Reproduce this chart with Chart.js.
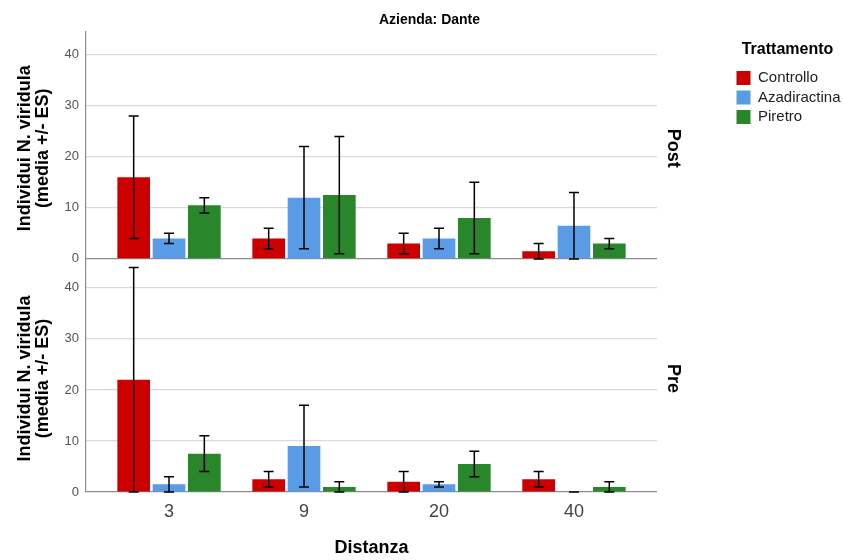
<!DOCTYPE html>
<html>
<head>
<meta charset="utf-8">
<title>Azienda: Dante</title>
<script src="https://cdn.jsdelivr.net/npm/chart.js@4.4.1/dist/chart.umd.min.js"></script>
<style>
  html, body { margin: 0; padding: 0; background: #fff; }
  #chart { display: block; }
</style>
</head>
<body>
<canvas id="chart" width="843" height="560"></canvas>
<script>
"use strict";

// distanze (asse x)
const categories = ['3', '9', '20', '40'];
const treatments = ['Controllo', 'Azadiractina', 'Piretro'];

// Post: medie ed errori standard
const postControllo = [16, 4, 3, 1.5];
const postControlloES = [12, 2, 2, 1.5];
const postAzadiractina = [4, 12, 4, 6.5];
const postAzadiractinaES = [1, 10, 2, 6.5];
const postPiretro = [10.5, 12.5, 8, 3];
const postPiretroES = [1.5, 11.5, 7, 1];

// Pre: medie ed errori standard
const preControllo = [22, 2.5, 2, 2.5];
const preControlloES = [22, 1.5, 2, 1.5];
const preAzadiractina = [1.5, 9, 1.5, 0];
const preAzadiractinaES = [1.5, 8, 0.5, 0];
const prePiretro = [7.5, 1, 5.5, 1];
const prePiretroES = [3.5, 1, 2.5, 1];

const yTicks = [0, 10, 20, 30, 40];

const colors = ['#cc0000', '#5a9be6', '#2a862a'];
const FONT = '"Liberation Sans", Arial, sans-serif';
const yTitle = ['Individui N. viridula', '(media +/- ES)'];

function toPoints(values){
  return values.map((v, i) => ({x: i, y: v}));
}

function makeSet(label, values, es, idx, axis){
  return {
    label: label,
    data: toPoints(values),
    es: es,
    yAxisID: axis,
    stack: label,
    backgroundColor: colors[idx],
    borderColor: colors[idx],
    borderWidth: 0,
    categoryPercentage: 0.785,
    barPercentage: 0.925
  };
}

const datasets = [
  makeSet(treatments[0], postControllo, postControlloES, 0, 'yPost'),
  makeSet(treatments[1], postAzadiractina, postAzadiractinaES, 1, 'yPost'),
  makeSet(treatments[2], postPiretro, postPiretroES, 2, 'yPost'),
  makeSet(treatments[0], preControllo, preControlloES, 0, 'yPre'),
  makeSet(treatments[1], preAzadiractina, preAzadiractinaES, 1, 'yPre'),
  makeSet(treatments[2], prePiretro, prePiretroES, 2, 'yPre')
];

// barre di errore (media +/- ES)
const errorBars = {
  id: 'errorBars',
  afterDatasetsDraw(chart){
    const ctx = chart.ctx;
    ctx.save();
    ctx.strokeStyle = '#000';
    ctx.lineWidth = 1.5;
    chart.data.datasets.forEach((ds, di) => {
      const meta = chart.getDatasetMeta(di);
      const yScale = chart.scales[meta.yAxisID];
      meta.data.forEach((bar, i) => {
        const v = ds.data[i].y;
        const e = ds.es[i];
        const top = yScale.getPixelForValue(v + e);
        const low = yScale.getPixelForValue(Math.max(0, v - e));
        const x = bar.x;
        ctx.beginPath();
        ctx.moveTo(x, top);
        ctx.lineTo(x, low);
        ctx.moveTo(x - 5, top);
        ctx.lineTo(x + 5, top);
        ctx.moveTo(x - 5, low);
        ctx.lineTo(x + 5, low);
        ctx.stroke();
      });
    });
    ctx.restore();
  }
};

function leftAxis(min, max){
  return {
    type: 'linear',
    position: 'left',
    stack: 'left',
    stackWeight: max - min,
    min: min,
    max: max,
    afterFit: (s) => { s.width = 70; },
    afterBuildTicks: (s) => { s.ticks = yTicks.map(v => ({value: v})); },
    ticks: { color: '#555', font: {family: FONT, size: 13}, padding: 7 },
    grid: {
      drawTicks: false,
      lineWidth: 1.2,
      color: (c) => (c.tick && c.tick.value === 0) ? '#8c8c8c' : '#d9d9d9'
    },
    border: { display: true, color: '#8c8c8c', width: 1.2 },
    title: {
      display: true,
      text: yTitle,
      color: '#000',
      font: {family: FONT, size: 18, weight: 'bold', lineHeight: 1},
      padding: {top: 0, bottom: 0}
    }
  };
}

function rightAxis(min, max, label){
  return {
    type: 'linear',
    position: 'right',
    stack: 'right',
    stackWeight: max - min,
    min: min,
    max: max,
    afterFit: (s) => { s.width = 75; },
    ticks: { display: false },
    grid: { display: false },
    border: { display: false },
    title: {
      display: true,
      text: label,
      color: '#000',
      font: {family: FONT, size: 18, weight: 'bold'},
      padding: {top: 48, bottom: 0}
    }
  };
}

new Chart(document.getElementById('chart'), {
  type: 'bar',
  data: { datasets: datasets },
  options: {
    responsive: false,
    animation: false,
    devicePixelRatio: 1,
    layout: { padding: {left: 16, right: 0, top: 0, bottom: 0} },
    scales: {
      x: {
        type: 'linear',
        min: -0.615,
        max: 3.615,
        offset: false,
        afterFit: (s) => { s.height = 68; },
        afterBuildTicks: (s) => { s.ticks = categories.map((c, i) => ({value: i})); },
        ticks: {
          color: '#444',
          font: {family: FONT, size: 18},
          padding: 1,
          callback: (v) => categories[v]
        },
        grid: { display: false, offset: false },
        border: { display: false },
        title: {
          display: true,
          text: 'Distanza',
          color: '#000',
          font: {family: FONT, size: 18, weight: 'bold'},
          padding: {top: 0, bottom: 1}
        }
      },
      yPre: leftAxis(0, 44.5),
      yPost: leftAxis(-1.18, 44.5),
      rPost: rightAxis(-1.18, 44.5, 'Post'),
      rPre: rightAxis(0, 44.5, 'Pre')
    },
    plugins: {
      title: {
        display: true,
        text: 'Azienda: Dante',
        color: '#000',
        font: {family: '"Liberation Sans Narrow", "Liberation Sans", Arial, sans-serif', size: 14, weight: 'bold'},
        padding: {top: 12, bottom: 3}
      },
      legend: {
        position: 'right',
        align: 'start',
        fullSize: false,
        maxWidth: 111,
        title: {
          display: true,
          text: 'Trattamento',
          position: 'center',
          color: '#000',
          font: {family: FONT, size: 16, weight: 'bold'},
          padding: {top: 10, bottom: 5}
        },
        labels: {
          boxWidth: 14,
          boxHeight: 14,
          padding: 4.5,
          color: '#222',
          font: {family: FONT, size: 15},
          filter: (item) => item.datasetIndex < 3
        }
      },
      tooltip: { enabled: false }
    }
  },
  plugins: [errorBars]
});
</script>
</body>
</html>
